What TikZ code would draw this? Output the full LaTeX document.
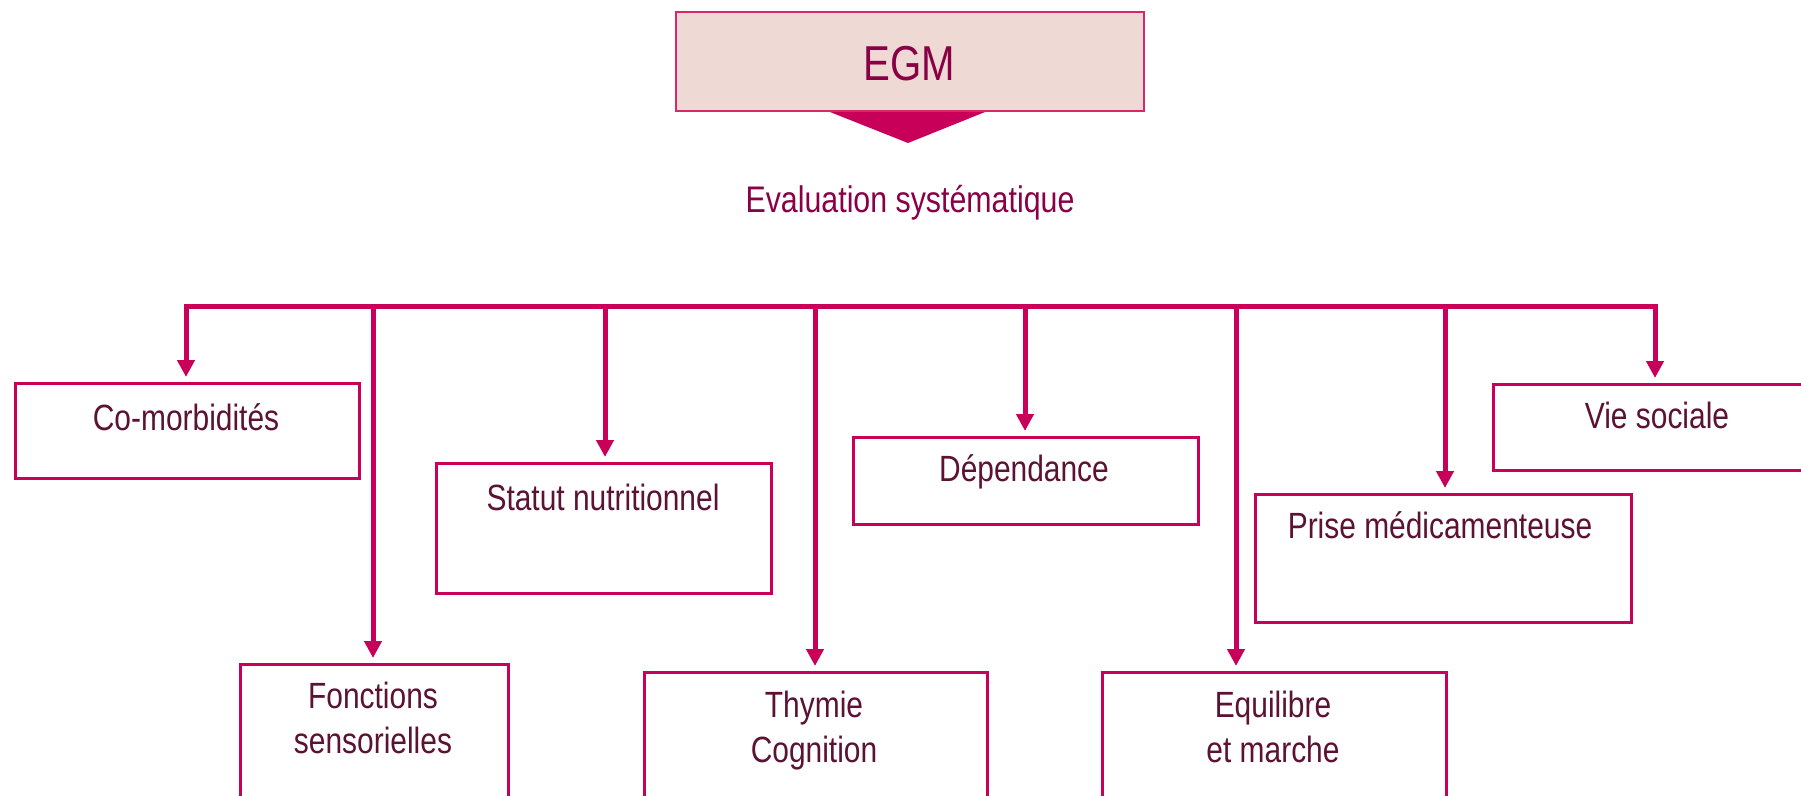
\documentclass[tikz,border=0pt]{standalone}
\usepackage{fontspec}
\setmainfont[FakeStretch=0.82]{Liberation Sans}
\usetikzlibrary{arrows.meta,calc}
\definecolor{mag}{RGB}{200,0,90}
\definecolor{egmfill}{RGB}{239,217,212}
\definecolor{egmborder}{RGB}{214,40,110}
\definecolor{titlec}{RGB}{138,0,70}
\definecolor{textc}{RGB}{92,18,51}
\tikzset{
  box/.style={draw=mag, line width=2.5pt, fill=white, anchor=north west, inner sep=0pt},
  lbl/.style={text=textc, font=\fontsize{36.5}{45}\selectfont, align=center, anchor=base, inner sep=0pt},
  bus/.style={draw=mag, line width=5pt, line cap=rect},
  arr/.style={draw=mag, line width=5pt, -{Triangle[width=17pt,length=17pt]}, shorten >=5pt},
}
\begin{document}
\begin{tikzpicture}[x=1pt,y=-1pt]
\useasboundingbox (0,0) rectangle (1801,795);
\clip (0,0) rectangle (1801,795);
% top box
\node[draw=egmborder, line width=2pt, fill=egmfill, anchor=north west, minimum width=468pt, minimum height=99pt, inner sep=0pt] (egm) at (675,11) {};
\node[text=titlec, font=\fontsize{49}{55}\selectfont, anchor=base, inner sep=0pt] (egmt) at (909,80) {EGM};
\fill[mag] ($(egm.south)+(-80,0)$) -- ($(egm.south)+(75,0)$) -- ($(egm.south)+(-2,31)$) -- cycle;
\node[text=titlec, font=\fontsize{37}{45}\selectfont, anchor=base, inner sep=0pt] (eval) at (910,212) {Evaluation systématique};
% boxes
\node[box, minimum width=344pt, minimum height=95pt] (b1) at (14,382) {};
\node[box, minimum width=268pt, minimum height=160pt] (b2) at (239,663) {};
\node[box, minimum width=335pt, minimum height=130pt] (b3) at (435,462) {};
\node[box, minimum width=343pt, minimum height=150pt] (b4) at (643,671) {};
\node[box, minimum width=345pt, minimum height=87pt] (b5) at (852,436) {};
\node[box, minimum width=344pt, minimum height=150pt] (b6) at (1101,671) {};
\node[box, minimum width=376pt, minimum height=128pt] (b7) at (1254,493) {};
\node[box, minimum width=340pt, minimum height=86pt] (b8) at (1492,383) {};
% labels (multi-line labels: base = baseline of last line)
\node[lbl] (t1) at (186,430) {Co-morbidités};
\node[lbl] (t2) at (373,753) {Fonctions\\sensorielles};
\node[lbl] (t3) at (603,510) {Statut nutritionnel};
\node[lbl] (t4) at (814,762) {Thymie\\Cognition};
\node[lbl] (t5) at (1024,481) {Dépendance};
\node[lbl] (t6) at (1273,762) {Equilibre\\et marche};
\node[lbl] (t7) at (1440,538) {Prise médicamenteuse};
\node[lbl] (t8) at (1657,428) {Vie sociale};
% bus
\coordinate (c1) at (186,306);
\coordinate (c2) at (373,306);
\coordinate (c3) at (605,306);
\coordinate (c4) at (815,306);
\coordinate (c5) at (1025,306);
\coordinate (c6) at (1236,306);
\coordinate (c7) at (1445,306);
\coordinate (c8) at (1655,306);
\draw[bus] (c1) -- (c8);
\draw[arr] (c1) -- (c1 |- b1.north);
\draw[arr] (c2) -- (c2 |- b2.north);
\draw[arr] (c3) -- (c3 |- b3.north);
\draw[arr] (c4) -- (c4 |- b4.north);
\draw[arr] (c5) -- (c5 |- b5.north);
\draw[arr] (c6) -- (c6 |- b6.north);
\draw[arr] (c7) -- (c7 |- b7.north);
\draw[arr] (c8) -- (c8 |- b8.north);
\end{tikzpicture}
\end{document}
